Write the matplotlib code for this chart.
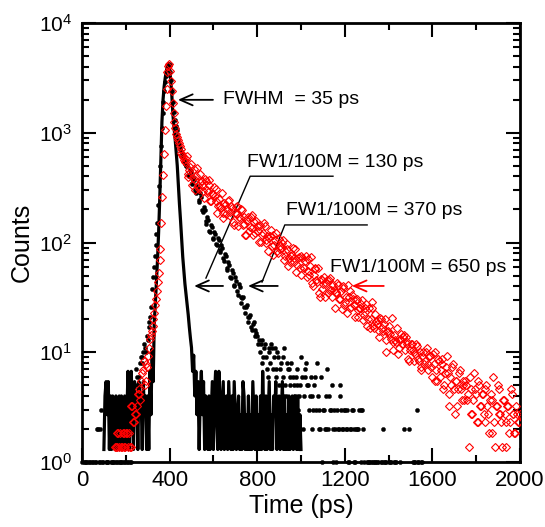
import numpy as np
import matplotlib
matplotlib.use('Agg')
import matplotlib.pyplot as plt
from matplotlib.ticker import MultipleLocator, LogLocator, NullFormatter

plt.rcParams['font.family'] = ['Liberation Sans', 'DejaVu Sans']
plt.rcParams['mathtext.fontset'] = 'custom'
plt.rcParams['mathtext.rm'] = 'Liberation Sans'
plt.rcParams['mathtext.it'] = 'Liberation Sans:italic'
plt.rcParams['mathtext.bf'] = 'Liberation Sans:bold'

# ---------------- data ----------------
# Instrument response (black line), counts, 5 ps channels from 100 ps
irf_start, irf_step = 100, 5
irf_counts = [
    1.3, 4.0, 5.4, 2.7, 5.4, 1.3, 4.0, 1.3, 4.0, 2.7,
    1.3, 4.0, 1.3, 2.7, 4.0, 1.3, 4.0, 1.3, 2.7, 4.0,
    1.3, 2.7, 6.7, 1.3, 4.0, 6.7, 2.7, 1.3, 5.4, 2.7,
    4.0, 1.3, 5.4, 2.7, 4.0, 1.3, 5.4, 2.7, 4.0, 1.3,
    4.0, 1.3, 6.7, 2.7, 10.7, 5.4, 19, 28, 45, 71,
    126, 251, 562, 1259, 1995, 2630, 3162, 3631, 4074, 4266,
    3802, 3020, 2239, 1479, 1122, 891, 676, 501, 331, 224,
    158, 107, 74, 55, 42, 34, 28, 22, 17, 13.5,
    11, 6.7, 9.4, 4.0, 6.7, 2.7, 5.4, 1.3, 4.0, 6.7,
    2.7, 5.4, 1.3, 4.0, 2.7, 1.3, 4.0, 1.3, 2.7, 5.4,
    1.3, 4.0, 6.7, 2.7, 1.3, 6.7, 4.0, 1.3, 2.7, 5.4,
    1.3, 2.7, 4.0, 1.3, 5.4, 2.7, 1.3, 4.0, 1.3, 5.4,
    2.7, 1.3, 2.7, 4.0, 1.3, 2.7, 1.3, 5.4, 4.0, 1.3,
    2.7, 1.3, 4.0, 1.3, 2.7, 1.3, 5.4, 2.7, 1.3, 4.0,
    1.3, 2.7, 1.3, 4.0, 1.3, 6.7, 2.7, 1.3, 4.0, 1.3,
    2.7, 5.4, 1.3, 2.7, 1.3, 4.0, 2.7, 5.4, 1.3, 2.7,
    4.0, 1.3, 2.7, 5.4, 1.3, 4.0, 1.3, 2.7, 1.3, 4.0,
    1.3, 2.7, 4.0, 1.3, 4.0, 2.7, 1.3, 4.0, 1.3, 2.7,
    1.3,
]

# Sample 1 (black dots, FW1/100M = 130 ps), counts.
# Even channels: 0, 8, 16 ... ps ; odd channels: 4, 12, 20 ... ps
dots_step = 8
dots_even_start = 0
dots_even = [
    1, 1, 0, 1, 1, 0, 1, 0, 1, 2,
    1, 3, 1, 0, 1, 1, 0, 1, 1, 0,
    1, 1, 0, 1, 1, 0, 1, 2, 1, 3,
    4, 7, 5, 8, 9, 10, 11, 14, 17, 21,
    38, 60, 95, 150, 330, 750, 1500, 2400, 3300, 4000,
    4100, 3000, 1900, 1300, 1050, 860, 730, 640, 570, 520,
    500, 400, 440, 340, 375, 285, 320, 235, 262, 190,
    198, 146, 162, 125, 138, 108, 120, 94, 106, 82,
    90, 68, 76, 56, 63, 47, 53, 40, 45, 33,
    39, 28, 32, 23, 27, 19, 22, 16, 19, 14,
    14, 13, 12, 8, 11, 9, 6, 11, 12, 7,
    11, 6, 9, 7, 4, 9, 5, 8, 7, 6,
    3, 5, 6, 5, 4, 9, 2, 6, 8, 5,
    4, 4, 3, 6, 8, 3, 2, 1, 3, 2,
    7, 4, 3, 2, 3, 1, 2, 5, 3, 2,
    3, 2, 1, 2, 3, 2, 1, 2, 3, 1,
    3, 1, 0, 1, 1, 0, 1, 1, 0, 1,
    0, 1, 2, 1, 0, 1, 1, 0, 1, 1,
    0, 0, 0, 0, 2, 0, 0, 0, 0, 1,
    1, 3, 1, 0, 1,
]
dots_odd_start = 4
dots_odd = [
    0, 1, 1, 0, 1, 1, 0, 1, 2, 1,
    2, 1, 0, 1, 1, 0, 1, 1, 0, 1,
    0, 1, 1, 0, 1, 1, 0, 1, 2, 3,
    5, 6, 6, 9, 8, 12, 10, 13, 19, 26,
    48, 75, 120, 220, 500, 1100, 1900, 2900, 3700, 4200,
    3600, 2400, 1550, 1150, 950, 790, 680, 600, 545, 495,
    415, 455, 350, 390, 300, 330, 245, 280, 198, 210,
    156, 170, 127, 143, 111, 125, 96, 110, 85, 94,
    72, 79, 59, 66, 49, 56, 41, 48, 36, 42,
    32, 31, 26, 26, 21, 21, 17, 18, 16, 15,
    12, 10, 13, 9, 12, 7, 10, 8, 11, 9,
    7, 10, 5, 8, 6, 11, 4, 7, 5, 8,
    6, 4, 7, 3, 5, 6, 4, 7, 5, 3,
    6, 2, 5, 3, 4, 2, 6, 3, 2, 4,
    2, 3, 5, 1, 2, 3, 2, 4, 2, 3,
    2, 3, 1, 2, 3, 1, 2, 2, 0, 3,
    2, 0, 1, 0, 1, 1, 0, 1, 1, 0,
    1, 0, 1, 1, 0, 0, 1, 0, 1, 0,
    0, 1, 0, 0, 0, 0, 2, 0, 0, 1,
    0, 1, 0, 1, 0,
]

# Sample 2 (red diamonds, FW1/100M = 650 ps), raw counts.
# Even channels: 150, 158 ... ps ; odd channels: 154, 162 ... ps
red_step = 8
red_even_start = 150
red_even = [
    3, 3, 4, 4, 3, 4, 3, 4, 4, 3,
    7, 5, 6, 9, 10, 12, 15, 11, 17, 20,
    29, 34, 44, 58, 78, 115, 190, 560, 1400, 3800,
    7700, 9276, 6420, 4050, 2740, 2127, 1852, 1650, 1435, 1310,
    1168, 1330, 915, 1049, 723, 1018, 804, 1033, 671, 794,
    795, 548, 790, 623, 801, 520, 603, 572, 666, 469,
    472, 608, 404, 478, 443, 528, 381, 447, 315, 454,
    392, 372, 439, 317, 372, 257, 369, 298, 388, 255,
    264, 310, 218, 315, 255, 324, 215, 251, 239, 284,
    256, 206, 265, 173, 204, 193, 231, 163, 190, 134,
    143, 168, 157, 188, 135, 159, 109, 158, 127, 164,
    153, 110, 160, 88, 125, 99, 126, 70, 98, 91,
    69, 100, 81, 104, 69, 81, 77, 92, 67, 78,
    88, 59, 69, 90, 78, 56, 66, 46, 66, 53,
    55, 65, 47, 55, 38, 55, 44, 55, 36, 42,
    43, 30, 44, 34, 44, 22, 34, 32, 45, 27,
    28, 36, 24, 28, 26, 31, 30, 26, 18, 26,
    23, 22, 26, 19, 22, 16, 22, 18, 24, 15,
    20, 13, 17, 22, 12, 18, 15, 19, 11, 16,
    14, 7, 11, 17, 6, 12, 10, 15, 8, 11,
    12, 8, 3, 10, 6, 14, 9, 5, 11, 7,
    9, 5, 11, 6, 8, 4, 13, 3, 7, 10,
    6, 3, 8, 5, 7, 4, 10, 6, 4, 7,
    5, 6,
]
red_odd_start = 154
red_odd = [
    3, 4, 3, 3, 4, 3, 4, 3, 3, 7,
    5, 6, 7, 9, 8, 14, 18, 12, 16, 24,
    31, 38, 50, 66, 95, 150, 330, 900, 2300, 5500,
    8800, 8000, 5200, 3300, 2400, 1980, 1750, 1540, 1370, 1240,
    1266, 861, 990, 1140, 833, 657, 885, 708, 920, 732,
    634, 820, 650, 726, 514, 598, 694, 514, 406, 540,
    452, 365, 498, 399, 517, 415, 468, 335, 400, 466,
    308, 366, 427, 320, 255, 345, 279, 368, 296, 332,
    342, 275, 310, 222, 263, 307, 228, 183, 250, 201,
    167, 227, 182, 236, 189, 214, 152, 178, 209, 156,
    165, 192, 143, 116, 157, 126, 163, 131, 148, 105,
    119, 133, 93, 111, 127, 94, 75, 102, 82, 106,
    93, 76, 99, 80, 90, 55, 76, 89, 67, 54,
    83, 63, 50, 69, 55, 72, 58, 65, 46, 55,
    60, 43, 51, 60, 44, 36, 62, 38, 48, 39,
    34, 45, 36, 39, 28, 33, 38, 29, 23, 31,
    27, 21, 29, 32, 30, 23, 27, 19, 23, 26,
    18, 21, 25, 18, 15, 20, 17, 22, 17, 20,
    16, 21, 12, 15, 19, 13, 17, 10, 14, 20,
    9, 13, 16, 10, 12, 7, 14, 10, 12, 8,
    11, 9, 13, 6, 8, 10, 5, 12, 7, 9,
    6, 10, 7, 4, 9, 8, 5, 7, 11, 6,
    5, 8, 6, 3, 7, 5, 9, 6, 4, 6,
    5,
]
RED_NORM = 0.46  # normalisation of sample 2 to the same peak height

x_ticks = [0, 400, 800, 1200, 1600, 2000]
x_ticklabels = ['0', '400', '800', '1200', '1600', '2000']

# ---------------- figure ----------------
fig = plt.figure(figsize=(5.45, 5.27), dpi=100)
ax = fig.add_axes([82 / 545, 1 - 462 / 527, 438 / 545, 439 / 527])

t_irf = irf_start + irf_step * np.arange(len(irf_counts))
irf = np.array(irf_counts, dtype=float)

t_dots = np.concatenate([dots_even_start + dots_step * np.arange(len(dots_even)),
                         dots_odd_start + dots_step * np.arange(len(dots_odd))])
dots = np.array(dots_even + dots_odd, dtype=float)

t_red = np.concatenate([red_even_start + red_step * np.arange(len(red_even)),
                        red_odd_start + red_step * np.arange(len(red_odd))])
red = np.array(red_even + red_odd, dtype=float) * RED_NORM

ax.plot(t_irf, irf, color='black', lw=2.3, zorder=2)
m = dots > 0
ax.plot(t_dots[m], dots[m], linestyle='none', marker='o', ms=3.0,
        mfc='black', mec='black', mew=0.3, zorder=3, clip_on=False)
ax.plot(t_red, red, linestyle='none', marker='D', ms=3.6,
        mfc='none', mec='red', mew=0.8, zorder=4)

ax.set_yscale('log')
ax.set_xlim(0, 2000)
ax.set_ylim(1, 1e4)
ax.set_xticks(x_ticks)
ax.set_xticklabels(x_ticklabels)
ax.xaxis.set_minor_locator(MultipleLocator(200))
ax.yaxis.set_major_locator(LogLocator(base=10, numticks=10))
ax.yaxis.set_minor_locator(LogLocator(base=10, subs=np.arange(2, 10), numticks=20))
ax.yaxis.set_minor_formatter(NullFormatter())

ax.tick_params(which='both', direction='in', top=True, right=True, width=1.5)
ax.tick_params(which='major', length=10)
ax.tick_params(which='minor', length=5)
ax.tick_params(axis='x', which='major', labelsize=16, pad=6)
ax.tick_params(axis='y', which='major', labelsize=15, pad=7)
for s in ax.spines.values():
    s.set_linewidth(2)

ax.set_xlabel('Time (ps)', fontsize=18, labelpad=2)
ax.set_ylabel('Counts', fontsize=18, labelpad=4)

tr = ax.transAxes
arrow_k = dict(arrowstyle='->,head_length=0.5,head_width=0.22', lw=1.3,
               color='black', shrinkA=0, shrinkB=0, mutation_scale=18)
arrow_r = dict(arrow_k, color='red')

# FWHM
ax.text(0.322, 0.825, 'FWHM  = 35 ps', transform=tr, fontsize=14,
        ha='left', va='center')
ax.annotate('', xy=(0.219, 0.825), xytext=(0.299, 0.825),
            xycoords=tr, textcoords=tr, arrowprops=arrow_k)

# 130 ps
ax.text(0.377, 0.683, 'FW1/100M = 130 ps', transform=tr, fontsize=14,
        ha='left', va='center')
ax.plot([0.573, 0.384, 0.283], [0.651, 0.651, 0.419], transform=tr,
        color='black', lw=1.0)
ax.annotate('', xy=(0.256, 0.401), xytext=(0.322, 0.401),
            xycoords=tr, textcoords=tr, arrowprops=arrow_k)

# 370 ps
ax.text(0.466, 0.572, 'FW1/100M = 370 ps', transform=tr, fontsize=14,
        ha='left', va='center')
ax.plot([0.651, 0.463, 0.411], [0.540, 0.540, 0.410], transform=tr,
        color='black', lw=1.0)
ax.annotate('', xy=(0.379, 0.401), xytext=(0.447, 0.401),
            xycoords=tr, textcoords=tr, arrowprops=arrow_k)

# 650 ps
ax.text(0.566, 0.444, 'FW1/100M = 650 ps', transform=tr, fontsize=14,
        ha='left', va='center')
ax.annotate('', xy=(0.616, 0.401), xytext=(0.689, 0.401),
            xycoords=tr, textcoords=tr, arrowprops=arrow_r)

fig.savefig('out.png', dpi=100)
